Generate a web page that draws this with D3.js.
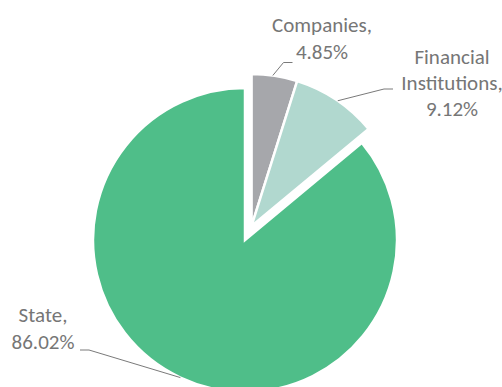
<!DOCTYPE html>
<html>
<head>
<meta charset="utf-8">
<script src="https://cdn.jsdelivr.net/npm/d3@7"></script>
<style>
  html, body { margin: 0; padding: 0; background: #fff; }
  svg { display: block; }
  .lbl { font-family: Carlito, Calibri, Lato, sans-serif; font-size: 21px; fill: #767676; }
</style>
</head>
<body>
<svg id="chart" width="502" height="387"></svg>
<script>
// Ownership structure, in percent
const categories = ["Companies", "Financial Institutions", "State"];
const shares = [4.85, 9.12, 86.02];
const labelLines = [["Companies,", "4.85%"], ["Financial", "Institutions,", "9.12%"], ["State,", "86.02%"]];
const colors = ["#a6a7ab", "#b1d8cf", "#4fbe89"];
const exploded = [true, true, false];

const width = 502, height = 387;
const cx = 245, cy = 240, radius = 152, explodeDist = 15.5;

const svg = d3.select("#chart");

const data = categories.map((c, i) => ({ name: c, value: shares[i], i }));
const pie = d3.pie().sort(null).value(d => d.value).startAngle(0).endAngle(2 * Math.PI);
const arcs = pie(data);
const arc = d3.arc().innerRadius(0).outerRadius(radius);

// exploded slices move out together along their joint bisector
const ex = arcs.filter(a => exploded[a.data.i]);
const exMid = (d3.min(ex, a => a.startAngle) + d3.max(ex, a => a.endAngle)) / 2;
const exOff = [Math.sin(exMid) * explodeDist, -Math.cos(exMid) * explodeDist];
const offset = a => exploded[a.data.i] ? exOff : [0, 0];

const g = svg.append("g").attr("transform", `translate(${cx},${cy})`);

g.selectAll("path.slice")
  .data(arcs)
  .join("path")
  .attr("class", "slice")
  .attr("transform", a => `translate(${offset(a)[0]},${offset(a)[1]})`)
  .attr("d", arc)
  .attr("fill", a => colors[a.data.i])
  .attr("stroke", "#ffffff")
  .attr("stroke-width", 2.5)
  .attr("stroke-linejoin", "miter");

// Label placement: centre x, first baseline, line step, and leader-line end near the text
const labelPos = [
  { x: 322, y: 32, line: 26.5, elbow: [292.5, 62.5], kneeDir: -1 },
  { x: 452, y: 64, line: 26, elbow: [393, 89], kneeDir: -1 },
  { x: 43, y: 322, line: 27, elbow: [80, 350], kneeDir: 1 }
];
// where each leader meets its slice (fraction through the slice's angle)
const leaderFrac = [0.46, 0.52, 0.5];

arcs.forEach((a, k) => {
  const p = labelPos[k];
  const t = a.startAngle + (a.endAngle - a.startAngle) * leaderFrac[k];
  const o = offset(a);
  const ex0 = cx + o[0] + Math.sin(t) * radius;
  const ey0 = cy + o[1] - Math.cos(t) * radius;
  const knee = [p.elbow[0] + p.kneeDir * 9, p.elbow[1]];
  svg.append("polyline")
    .attr("points", [[ex0, ey0], knee, p.elbow].map(q => q.join(",")).join(" "))
    .attr("fill", "none")
    .attr("stroke", "#7a7a7a")
    .attr("stroke-width", 1);

  const txt = svg.append("text").attr("class", "lbl").attr("text-anchor", "middle");
  labelLines[k].forEach((s, j) => {
    txt.append("tspan").attr("x", p.x).attr("y", p.y + j * p.line).text(s);
  });
});
</script>
</body>
</html>
